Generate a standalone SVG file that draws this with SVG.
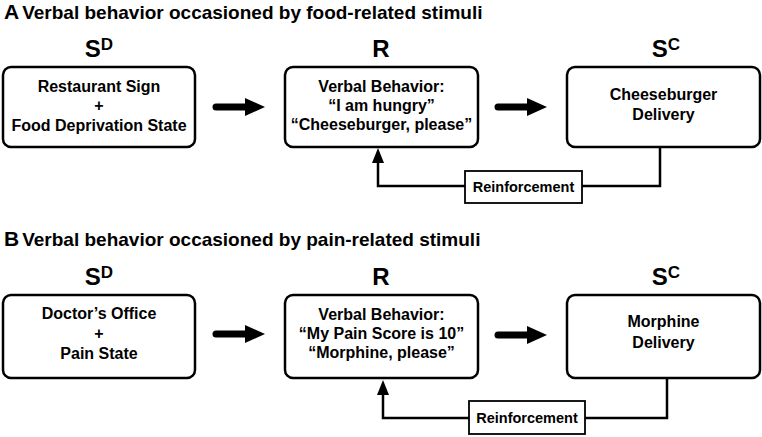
<svg xmlns="http://www.w3.org/2000/svg" width="762" height="437" viewBox="0 0 762 437">
<style>
text{font-family:"Liberation Sans",Arial,sans-serif;font-weight:bold;fill:#000}
.t{font-size:19px}
.big{font-size:21px}
.s{font-size:24px;text-anchor:middle}
.sup{font-size:17px}
.n{font-size:16px;text-anchor:middle}
.r{font-size:14.5px;text-anchor:middle}
.box{fill:#fff;stroke:#000;stroke-width:2.5}
.rb{fill:#fff;stroke:#000;stroke-width:1.8}
.ln{fill:none;stroke:#000;stroke-width:2.5}
.sh{stroke:#000;stroke-width:7;stroke-linecap:round}
</style>
<rect width="762" height="437" fill="#fff"/>
<g id="titleA"><text x="4" y="19"><tspan class="big">A</tspan><tspan class="t" dx="3">Verbal behavior occasioned by food-related stimuli</tspan></text></g>
<g id="titleB"><text x="4" y="246"><tspan class="big">B</tspan><tspan class="t" dx="3">Verbal behavior occasioned by pain-related stimuli</tspan></text></g>

<g id="labelsA">
<text class="s" x="99" y="57">S<tspan class="sup" dy="-7">D</tspan></text>
<text class="s" x="381" y="57">R</text>
<text class="s" x="666" y="57">S<tspan class="sup" dy="-7">C</tspan></text>
</g>
<g id="labelsB">
<text class="s" x="99" y="285">S<tspan class="sup" dy="-7">D</tspan></text>
<text class="s" x="381" y="285">R</text>
<text class="s" x="666" y="285">S<tspan class="sup" dy="-7">C</tspan></text>
</g>

<g id="connectors">
<line class="sh" x1="216" y1="107" x2="248" y2="107"/>
<polygon points="245,98 265,107 245,116"/>
<line class="sh" x1="498" y1="107" x2="530" y2="107"/>
<polygon points="527,98 547,107 527,116"/>
<polyline class="ln" points="660,147 660,186 378,186 378,160"/>
<polygon points="372,163 378,148 384,163"/>
<line class="sh" x1="216" y1="334" x2="248" y2="334"/>
<polygon points="245,325 265,334 245,343"/>
<line class="sh" x1="498" y1="335" x2="530" y2="335"/>
<polygon points="527,326 547,335 527,344"/>
<polyline class="ln" points="667,378 667,418 383,418 383,392"/>
<polygon points="377,395 383,380 389,395"/>
</g>

<g id="A-SD"><rect class="box" x="3" y="67" width="192" height="80" rx="8"/>
<text class="n" x="99" y="92">Restaurant Sign</text>
<text class="n" x="99" y="111">+</text>
<text class="n" x="99" y="131">Food Deprivation State</text></g>
<g id="A-R"><rect class="box" x="285" y="67" width="193" height="80" rx="8"/>
<text class="n" x="381.5" y="92">Verbal Behavior:</text>
<text class="n" x="381.5" y="111">“I am hungry”</text>
<text class="n" x="381.5" y="130">“Cheeseburger, please”</text></g>
<g id="A-SC"><rect class="box" x="567" y="67" width="193" height="80" rx="8"/>
<text class="n" x="663.5" y="100">Cheeseburger</text>
<text class="n" x="663.5" y="120">Delivery</text></g>
<g id="A-Reinf"><rect class="rb" x="465" y="171" width="117" height="32"/>
<text class="r" x="523.5" y="192">Reinforcement</text></g>

<g id="B-SD"><rect class="box" x="3" y="295" width="192" height="83" rx="8"/>
<text class="n" x="99" y="319">Doctor’s Office</text>
<text class="n" x="99" y="339">+</text>
<text class="n" x="99" y="359">Pain State</text></g>
<g id="B-R"><rect class="box" x="285" y="295" width="193" height="83" rx="8"/>
<text class="n" x="381.5" y="320">Verbal Behavior:</text>
<text class="n" x="381.5" y="339">“My Pain Score is 10”</text>
<text class="n" x="381.5" y="358">“Morphine, please”</text></g>
<g id="B-SC"><rect class="box" x="567" y="295" width="193" height="83" rx="8"/>
<text class="n" x="663.5" y="327">Morphine</text>
<text class="n" x="663.5" y="348">Delivery</text></g>
<g id="B-Reinf"><rect class="rb" x="469" y="401" width="116" height="33"/>
<text class="r" x="527" y="423">Reinforcement</text></g>
</svg>
